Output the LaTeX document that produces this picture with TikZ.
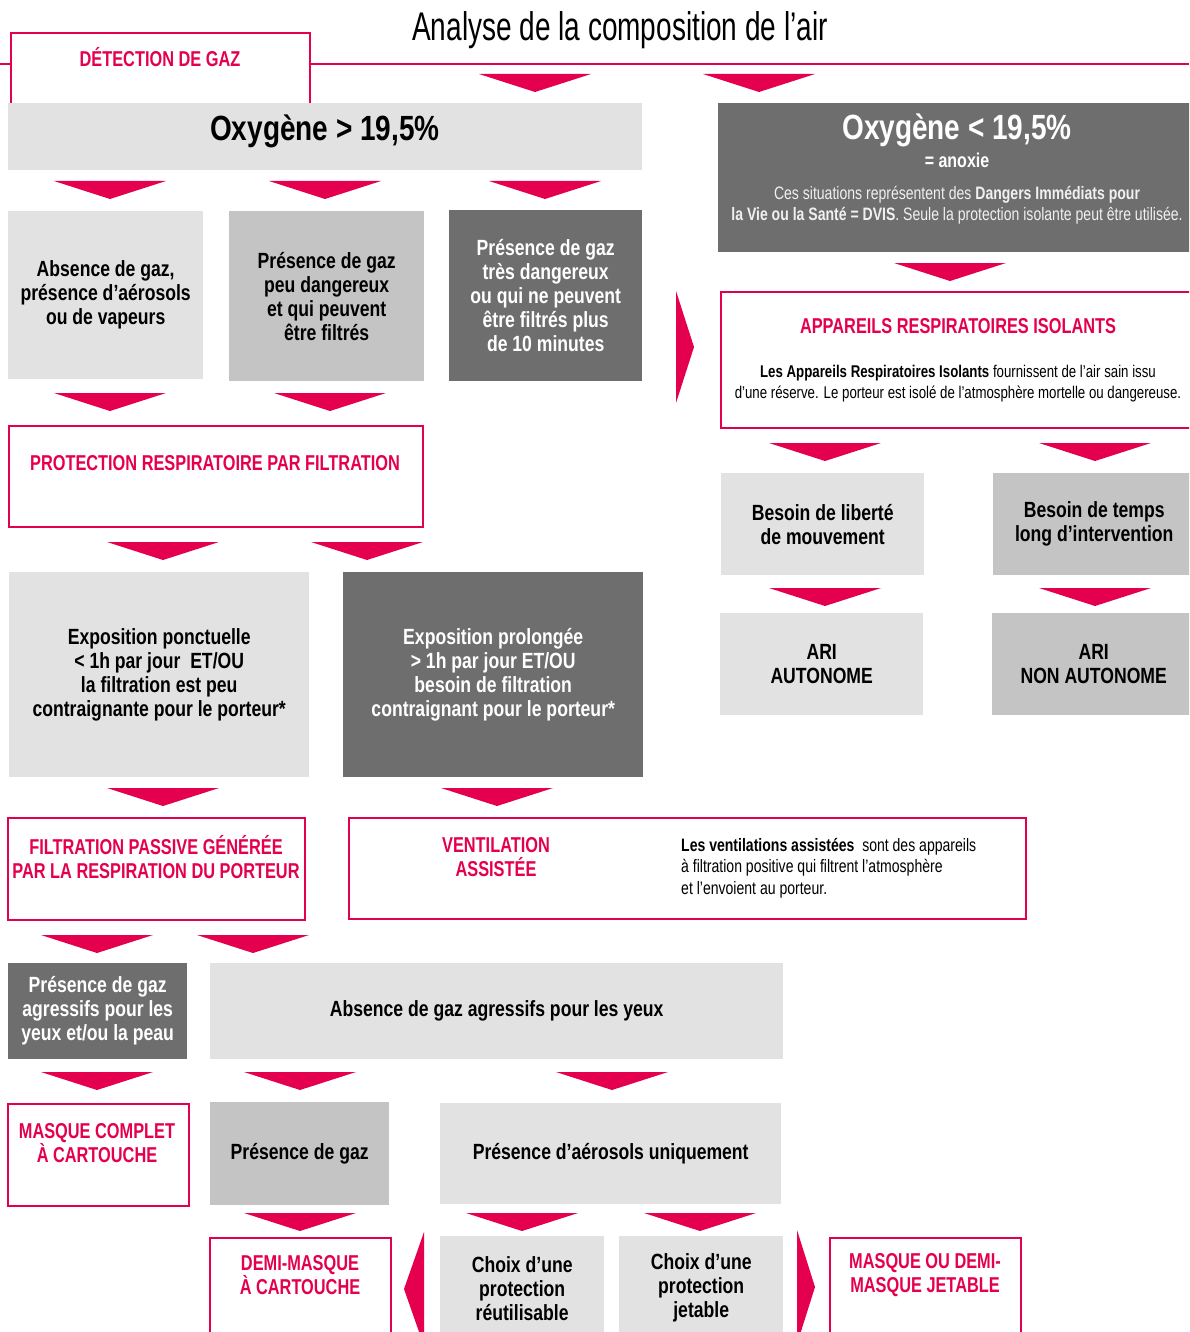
\documentclass[tikz,border=0pt]{standalone}
\usepackage{fontspec}
\setmainfont{Liberation Sans}[FakeStretch=0.8]
\newfontfamily\titlefont{Liberation Sans}[FakeStretch=0.7]
\newfontfamily\smallfont{Liberation Sans}[FakeStretch=0.78]
\newfontfamily\pfont{Liberation Sans}[FakeStretch=0.76]
\definecolor{pk}{HTML}{E4004F}
\definecolor{lg}{HTML}{E2E2E2}
\definecolor{mg}{HTML}{C4C4C4}
\definecolor{dg}{HTML}{6E6E6E}
\newcommand{\dtri}[2]{\fill[pk] ({#1-56},{#2}) -- ({#1+56},{#2}) -- ({#1},{#2+18}) -- cycle;}
\tikzset{
  gbox/.style={anchor=north west, inner sep=0pt, align=center, font=\bfseries\fontsize{22}{24}\selectfont},
  lbox/.style={gbox, fill=lg, text=black},
  mbox/.style={gbox, fill=mg, text=black},
  dbox/.style={gbox, fill=dg, text=white},
  pframe/.style={draw=pk, line width=2.2pt, fill=white},
  ptext/.style={text=pk, align=center, inner sep=0pt, font=\pfont\bfseries\fontsize{21.5}{24}\selectfont},
  stext/.style={align=center, inner sep=0pt, font=\smallfont\fontsize{17.5}{21}\selectfont},
}
\begin{document}
\begin{tikzpicture}[x=1pt,y=-1pt]
\useasboundingbox (0,0) rectangle (1189,1332);
\clip (0,0) rectangle (1189,1332);
\fill[white] (0,0) rectangle (1189,1332);
% title
\node[inner sep=0pt, font=\titlefont\fontsize{40}{44}\selectfont] (title) at (620,30) {Analyse de la composition de l’air};
\coordinate (lineL) at (0,64);
\coordinate (lineR) at (1189,64);
\draw[pk, line width=1.2pt] (lineL) -- (lineR);
\node[pframe, anchor=north west, minimum width=299, minimum height=72, inner sep=0pt] (det) at (10,32) {};
\node[ptext] (detT) at (160,57) {DÉTECTION DE GAZ};
\dtri{535}{74}
\dtri{759}{74}
% oxygen boxes
\node[lbox, minimum width=634, minimum height=67] (oxy1) at (8,103) {};
\node[inner sep=0pt, font=\bfseries\fontsize{35}{38}\selectfont] (oxy1T) at (325,131) {Oxygène > 19,5\%};
\node[dbox, minimum width=477, minimum height=149] (oxy2) at (718,103) {};
\node[inner sep=0pt, text=white, font=\bfseries\fontsize{35}{38}\selectfont] (oxy2T) at (957,130) {Oxygène < 19,5\%};
\node[inner sep=0pt, text=white, font=\bfseries\fontsize{20}{22}\selectfont] (oxy2S) at (957,160) {= anoxie};
\node[stext, text=white!90!dg, font=\smallfont\fontsize{18}{21}\selectfont] (oxy2D) at (957,205) {Ces situations représentent des \textbf{Dangers Immédiats pour}\\\textbf{la Vie ou la Santé = DVIS}. Seule la protection isolante peut être utilisée.};
\dtri{110}{181}
\dtri{325}{181}
\dtri{545}{181}
\dtri{950}{263}
% row 2
\node[lbox, minimum width=195, minimum height=168] (abs) at (8,211) {Absence de gaz,\\présence d’aérosols\\ou de vapeurs};
\node[mbox, minimum width=195, minimum height=170] (peu) at (229,211) {Présence de gaz\\peu dangereux\\et qui peuvent\\être filtrés};
\node[dbox, minimum width=193, minimum height=171] (tres) at (449,210) {Présence de gaz\\très dangereux\\ou qui ne peuvent\\être filtrés plus\\de 10 minutes};
\fill[pk] (676,291) -- (694,347) -- (676,403) -- cycle;
% isolants
\node[pframe, anchor=north west, minimum width=475, minimum height=136, inner sep=0pt] (ari) at (720,291) {};
\node[ptext] (ariT) at (958,326) {APPAREILS RESPIRATOIRES ISOLANTS};
\node[stext, font=\smallfont\fontsize{17}{21}\selectfont] (ariD) at (958,384) {\textbf{Les Appareils Respiratoires Isolants} fournissent de l’air sain issu\\d’une réserve. Le porteur est isolé de l’atmosphère mortelle ou dangereuse.};
\dtri{825}{443}
\dtri{1095}{443}
\node[lbox, minimum width=203, minimum height=102] (lib) at (721,473) {Besoin de liberté\\de mouvement};
\node[mbox, minimum width=202, minimum height=102] (temps) at (993,473) {Besoin de temps\\long d’intervention};
\dtri{825}{588}
\dtri{1095}{588}
\node[lbox, minimum width=203, minimum height=102] (ariA) at (720,613) {ARI\\AUTONOME};
\node[mbox, minimum width=203, minimum height=102] (ariN) at (992,613) {ARI\\NON AUTONOME};
% filtration
\dtri{110}{393}
\dtri{330}{393}
\node[pframe, anchor=north west, minimum width=414, minimum height=101, inner sep=0pt] (prot) at (8,425) {};
\node[ptext] (protT) at (215,463) {PROTECTION RESPIRATOIRE PAR FILTRATION};
\dtri{163}{542}
\dtri{367}{542}
\node[lbox, minimum width=300, minimum height=205] (expo1) at (9,572) {Exposition ponctuelle\\< 1h par jour \ ET/OU\\la filtration est peu\\contraignante pour le porteur*};
\node[dbox, minimum width=300, minimum height=205] (expo2) at (343,572) {Exposition prolongée\\> 1h par jour ET/OU\\besoin de filtration\\contraignant pour le porteur*};
\dtri{163}{788}
\dtri{497}{788}
\node[pframe, anchor=north west, minimum width=297, minimum height=102, inner sep=0pt] (filt) at (7,817) {};
\node[ptext] (filtT) at (156,857) {FILTRATION PASSIVE GÉNÉRÉE\\PAR LA RESPIRATION DU PORTEUR};
\node[pframe, anchor=north west, minimum width=677, minimum height=101, inner sep=0pt] (vent) at (348,817) {};
\node[ptext] (ventT) at (496,857) {VENTILATION\\ASSISTÉE};
\node[stext, align=left, anchor=west, font=\smallfont\fontsize{18}{21.5}\selectfont] (ventD) at (681,868) {\textbf{Les ventilations assistées} \ sont des appareils\\à filtration positive qui filtrent l’atmosphère\\et l’envoient au porteur.};
\dtri{97}{935}
\dtri{253}{935}
\node[dbox, minimum width=179, minimum height=96] (aggr) at (8,963) {Présence de gaz\\agressifs pour les\\yeux et/ou la peau};
\node[lbox, minimum width=573, minimum height=96] (absag) at (210,963) {Absence de gaz agressifs pour les yeux};
\dtri{97}{1072}
\dtri{300}{1072}
\dtri{612}{1072}
\node[pframe, anchor=north west, minimum width=181, minimum height=102, inner sep=0pt] (masq) at (7,1103) {};
\node[ptext] (masqT) at (97,1143) {MASQUE COMPLET\\À CARTOUCHE};
\node[mbox, minimum width=179, minimum height=103] (pgaz) at (210,1102) {Présence de gaz};
\node[lbox, minimum width=341, minimum height=101] (aero) at (440,1103) {Présence d’aérosols uniquement};
\dtri{300}{1213}
\dtri{522}{1213}
\dtri{700}{1213}
\node[pframe, anchor=north west, minimum width=181, minimum height=110, inner sep=0pt] (demi) at (209,1237) {};
\node[ptext] (demiT) at (300,1275) {DEMI-MASQUE\\À CARTOUCHE};
\fill[pk] (424,1232) -- (404,1289) -- (424,1346) -- cycle;
\node[lbox, minimum width=164, minimum height=104] (reut) at (440,1236) {Choix d’une\\protection\\réutilisable};
\node[lbox, minimum width=164, minimum height=104] (jet) at (619,1236) {Choix d’une\\protection\\jetable};
\fill[pk] (797,1230) -- (815,1287) -- (797,1344) -- cycle;
\node[pframe, anchor=north west, minimum width=191, minimum height=110, inner sep=0pt] (jetb) at (829,1237) {};
\node[ptext] (jetbT) at (925,1275) {MASQUE OU DEMI-\\MASQUE JETABLE};
\end{tikzpicture}
\end{document}
